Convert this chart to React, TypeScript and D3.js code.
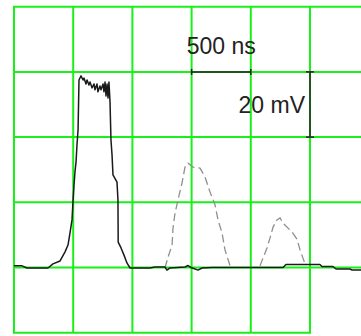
import React from "react";
import * as d3 from "d3";

// time in ns, voltage in mV
const traceT = [0, 68, 110, 287, 329, 389, 431, 456, 473, 490, 498, 507, 515, 524, 532, 541, 549, 566, 583, 591, 608, 617, 633, 642, 659, 676, 684, 701, 709, 726, 735, 752, 760, 769, 777, 786, 794, 802, 811, 819, 828, 836, 870, 878, 880, 904, 929, 954, 980, 1149, 1191, 1275, 1292, 1318, 1444, 1470, 1495, 1554, 1588, 1672, 2272, 2297, 2584, 2601, 2694, 2720, 2838, 2855, 2931];
const traceV = [0.5, 0.5, -0.15, -0.15, 1.1, 2.0, 4.8, 6.9, 10.6, 14.6, 20.1, 25.3, 29.3, 32.4, 37.6, 42.2, 57.5, 58.8, 57.5, 58.1, 56.3, 57.5, 56.0, 56.9, 55.1, 56.3, 54.5, 56.3, 53.9, 55.7, 54.5, 56.3, 53.9, 56.9, 52.6, 56.3, 52.0, 56.9, 50.8, 39.1, 34.5, 28.4, 26.2, 20.7, 7.8, 6.0, 3.8, 1.4, -0.15, -0.15, 0.15, 0.15, -0.8, -0.15, 0.15, 0.6, 0, -0.8, -0.15, 0, 0, 0.9, 0.9, 0.3, 0.3, -0.45, -0.45, -0.77, -0.77];

const echo1T = [1275, 1301, 1335, 1343, 1360, 1385, 1419, 1444, 1470, 1512, 1571, 1613, 1655, 1698, 1723, 1757, 1782, 1825];
const echo1V = [-0.15, 3.2, 6.9, 12.1, 16.7, 20.7, 25.9, 30.8, 32.0, 30.8, 30.5, 27.8, 23.2, 19.2, 14.6, 10.6, 5.4, 0.5];

const echo2T = [2078, 2103, 2137, 2162, 2188, 2221, 2247, 2272, 2348, 2390, 2416, 2458];
const echo2V = [0.5, 2.9, 6.0, 9.0, 12.4, 14.6, 15.2, 13.6, 10.9, 8.7, 5.4, 1.1];

const timeTicks = [0, 500, 1000, 1500, 2000, 2500, 3000];
const voltTicks = [-20, 0, 20, 40, 60, 80];

const timeBar = [1500, 2000];
const timeBarV = 60;
const voltBar = [40, 60];
const voltBarT = 2500;
const timeLabel = "500 ns";
const voltLabel = "20 mV";

const W = 361, H = 336;

export default function App() {
  const x = d3.scaleLinear().domain([0, 3000]).range([14, 369.2]);
  const y = d3.scaleLinear().domain([-20, 80]).range([332.7, 6.7]);

  const line = d3.line<[number, number]>().x(d => x(d[0])).y(d => y(d[1]));
  const zip = (t: number[], v: number[]) => t.map((d, i) => [d, v[i]] as [number, number]);

  const green = "#19f019";
  const barY = y(timeBarV);
  const barX = x(voltBarT);

  return (
    <svg width={W} height={H} style={{ position: "absolute", left: 0, top: 0, background: "#fff" }}
      fontFamily="'Liberation Sans', Arial, sans-serif">
      {/* grid */}
      {timeTicks.map(t => (
        <line key={"v" + t} x1={x(t)} x2={x(t)} y1={y(80)} y2={y(-20)} stroke={green} strokeWidth={2} />
      ))}
      {voltTicks.map(v => (
        <line key={"h" + v} x1={x(0) - 1} x2={v === -20 ? x(2500) + 1 : W} y1={y(v)} y2={y(v)} stroke={green} strokeWidth={2} />
      ))}

      {/* echoes */}
      <path d={line(zip(echo1T, echo1V)) || ""} fill="none" stroke="#8f8f8f" strokeWidth={1.3} strokeDasharray="8,4" />
      <path d={line(zip(echo2T, echo2V)) || ""} fill="none" stroke="#8f8f8f" strokeWidth={1.3} strokeDasharray="8,4" />

      {/* main pulse */}
      <path d={line(zip(traceT, traceV)) || ""} fill="none" stroke="#1a1a1a" strokeWidth={1.5} strokeLinejoin="round" />

      {/* scale bars */}
      <g stroke="#222" strokeWidth={1.5}>
        <line x1={x(timeBar[0])} x2={x(timeBar[1])} y1={barY} y2={barY} />
        <line x1={x(timeBar[0])} x2={x(timeBar[0])} y1={barY - 3} y2={barY + 3} />
        <line x1={x(timeBar[1])} x2={x(timeBar[1])} y1={barY - 3} y2={barY + 3} />
        <line x1={barX} x2={barX} y1={y(voltBar[0])} y2={y(voltBar[1])} />
        <line x1={barX - 4} x2={barX + 4} y1={y(voltBar[0])} y2={y(voltBar[0])} />
        <line x1={barX - 4} x2={barX + 4} y1={y(voltBar[1])} y2={y(voltBar[1])} />
      </g>
      <text x={(x(timeBar[0]) + x(timeBar[1])) / 2} y={barY - 18} textAnchor="middle" fontSize={23} fill="#222">{timeLabel}</text>
      <text x={barX - 5} y={(y(voltBar[0]) + y(voltBar[1])) / 2 + 8} textAnchor="end" fontSize={23} fill="#222">{voltLabel}</text>
    </svg>
  );
}
